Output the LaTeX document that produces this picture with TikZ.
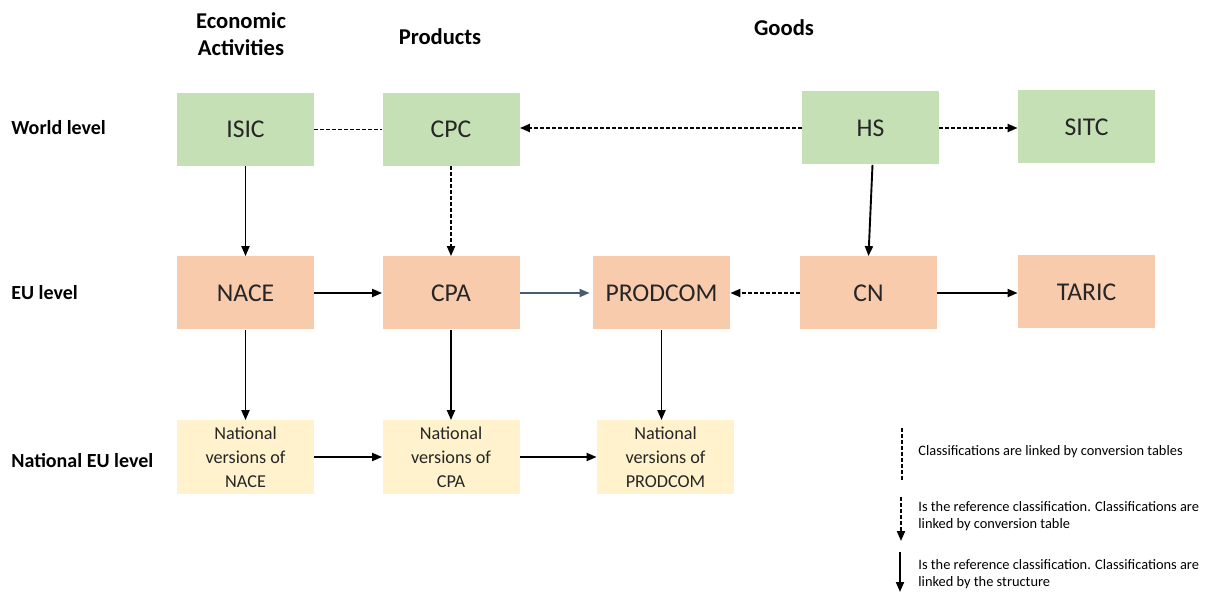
\documentclass[tikz,border=0pt]{standalone}
\usepackage{fontspec}
\setmainfont{Carlito}
\usetikzlibrary{arrows.meta}
\definecolor{worldgreen}{HTML}{C5E0B4}
\definecolor{eupeach}{HTML}{F8CBAD}
\definecolor{natyellow}{HTML}{FFF2CC}
\definecolor{slateline}{HTML}{4A5A70}
\begin{document}
\begin{tikzpicture}[x=0.5pt,y=-0.5pt,
  box/.style = {shape=rectangle, minimum width=68.5pt, minimum height=36.5pt, inner sep=0pt, align=center, text=black!85},
  worldbox/.style = {box, fill=worldgreen, font=\fontsize{12.8}{15}\selectfont},
  eubox/.style = {box, fill=eupeach, font=\fontsize{12.8}{15}\selectfont},
  natbox/.style = {box, fill=natyellow, font=\fontsize{9.1}{12}\selectfont},
  header/.style = {align=center, font=\fontsize{11.3}{13.5}\selectfont\bfseries},
  rowlabel/.style = {anchor=west, inner sep=0pt, font=\fontsize{10}{12}\selectfont\bfseries},
  legtext/.style = {anchor=west, align=left, inner sep=0pt, font=\fontsize{7.2}{8.5}\selectfont},
  structure/.style = {line width=0.95pt, -{Triangle[length=5pt,width=4pt]}},
  conversion/.style = {line width=0.95pt, dash pattern=on 2pt off 1pt},
  conversionref/.style = {conversion, -{Triangle[length=5pt,width=4pt]}}]

  \useasboundingbox (0,0) rectangle (1206,593);

  % column and row headings
  \node[header] (econ) at (241,34.5) {Economic\\Activities};
  \node[header] (prod) at (440,37) {Products};
  \node[header] (goods) at (784,28) {Goods};
  \node[rowlabel] (world) at (11,128) {World level};
  \node[rowlabel] (eu) at (11,293) {EU level};
  \node[rowlabel] (national) at (11,461) {National EU level};

  % world level
  \node[worldbox] (isic) at (245.5,129.5) {ISIC};
  \node[worldbox] (cpc) at (451,129.5) {CPC};
  \node[worldbox] (hs) at (870.5,128) {HS};
  \node[worldbox] (sitc) at (1086.5,127) {SITC};

  % EU level
  \node[eubox] (nace) at (245.5,293) {NACE};
  \node[eubox] (cpa) at (451,293) {CPA};
  \node[eubox] (prodcom) at (661.5,293) {PRODCOM};
  \node[eubox] (cn) at (868.5,293) {CN};
  \node[eubox] (taric) at (1086.5,292) {TARIC};

  % national EU level
  \node[natbox] (natnace) at (245.5,457) {National\\versions of\\NACE};
  \node[natbox] (natcpa) at (451,457) {National\\versions of\\CPA};
  \node[natbox] (natprodcom) at (665.5,457) {National\\versions of\\PRODCOM};

  % links
  \draw[conversion] (isic) -- (cpc);
  \draw[conversionref] (hs) -- (hs -| cpc.east);
  \draw[conversionref] (hs) -- (hs -| sitc.west);
  \draw[structure] (isic) -- (nace);
  \draw[conversionref] (cpc) -- (cpa);
  \draw[structure] (hs.south) ++(2,0) -- (cn.north);
  \draw[structure] (nace) -- (cpa);
  \draw[structure, slateline, shorten >=1.5pt] (cpa) -- (prodcom);
  \draw[conversionref] (cn) -- (prodcom);
  \draw[structure] (cn) -- (cn -| taric.west);
  \draw[structure] (nace) -- (natnace);
  \draw[structure] (cpa) -- (natcpa);
  \draw[structure] (prodcom) -- (prodcom |- natprodcom.north);
  \draw[structure] (natnace) -- (natcpa);
  \draw[structure] (natcpa) -- (natprodcom);

  % legend
  \coordinate (leg1a) at (902,428);
  \coordinate (leg1b) at (902,480);
  \coordinate (leg2a) at (901,497);
  \coordinate (leg2b) at (901,541);
  \coordinate (leg3a) at (900,552);
  \coordinate (leg3b) at (900,592);
  \draw[conversion] (leg1a) -- (leg1b);
  \draw[conversionref] (leg2a) -- (leg2b);
  \draw[structure] (leg3a) -- (leg3b);
  \node[legtext] (leg1) at (918,452) {Classifications are linked by conversion tables};
  \node[legtext] (leg2) at (918,516.5) {Is the reference classification. Classifications are\\linked by conversion table};
  \node[legtext] (leg3) at (918,574.5) {Is the reference classification. Classifications are\\linked by the structure};
\end{tikzpicture}
\end{document}
